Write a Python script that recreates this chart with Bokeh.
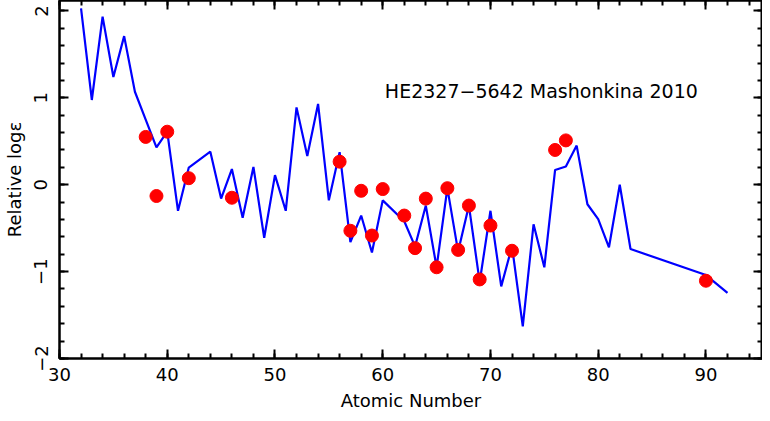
from bokeh.plotting import figure
from bokeh.models import LinearAxis, Range1d, Label, SingleIntervalTicker, CustomJSTickFormatter
from bokeh.embed import file_html
from bokeh.resources import INLINE

# Blue line: model abundance pattern
line_z = [32, 33, 34, 35, 36, 37, 38, 39, 40, 41, 42, 44, 45, 46, 47, 48, 49, 50,
          51, 52, 53, 54, 55, 56, 57, 58, 59, 60, 62, 63, 64, 65, 66, 67, 68, 69,
          70, 71, 72, 73, 74, 75, 76, 77, 78, 79, 80, 81, 82, 83, 90, 92]
line_val = [2.03, 0.975, 1.935, 1.24, 1.71, 1.07, 0.75, 0.43, 0.61, -0.30, 0.197, 0.38,
            -0.16, 0.18, -0.38, 0.205, -0.61, 0.11, -0.30, 0.89, 0.33, 0.93, -0.18,
            0.375, -0.66, -0.355, -0.78, -0.18, -0.42, -0.71, -0.24, -0.95, -0.04,
            -0.77, -0.24, -1.12, -0.30, -1.17, -0.71, -1.63, -0.455, -0.95, 0.17,
            0.21, 0.45, -0.225, -0.395, -0.72, 0.0, -0.74, -1.04, -1.245]

# Red points: observed abundances
obs_z = [38, 39, 40, 42, 46, 56, 57, 58, 59, 60, 62, 63, 64, 65, 66, 67, 68, 69,
         70, 72, 76, 77, 90]
obs_val = [0.55, -0.13, 0.61, 0.075, -0.15, 0.265, -0.53, -0.07, -0.585, -0.05,
           -0.355, -0.73, -0.16, -0.95, -0.04, -0.75, -0.24, -1.09, -0.47, -0.76,
           0.40, 0.51, -1.105]

x_label = "Atomic Number"
y_label = "Relative log\u03b5"
annot = "HE2327\u22125642 Mashonkina 2010"

FONT = "DejaVu Sans"
FS = "18px"

p = figure(width=762, height=413, output_backend="svg", toolbar_location=None,
           x_range=Range1d(30, 95.25), y_range=Range1d(-2, 2.12),
           min_border_left=0, min_border_right=0, min_border_top=0, min_border_bottom=0)
p.xgrid.visible = False
p.ygrid.visible = False
p.outline_line_color = "black"
p.outline_line_width = 2
p.background_fill_color = "white"
p.border_fill_color = "white"

xt = SingleIntervalTicker(interval=10, num_minor_ticks=5)
yt = SingleIntervalTicker(interval=1, num_minor_ticks=5)

def style(ax, show_labels):
    ax.axis_line_color = "black"
    ax.axis_line_width = 2
    ax.major_tick_in = 9
    ax.major_tick_out = 0
    ax.minor_tick_in = 5
    ax.minor_tick_out = 0
    ax.major_tick_line_width = 2
    ax.minor_tick_line_width = 2
    ax.major_tick_line_color = "black"
    ax.minor_tick_line_color = "black"
    if show_labels:
        ax.major_label_text_font = FONT
        ax.major_label_text_font_size = FS
        ax.major_label_text_color = "black"
        ax.axis_label_text_font = FONT
        ax.axis_label_text_font_size = FS
        ax.axis_label_text_font_style = "normal"
        ax.axis_label_text_color = "black"
    else:
        ax.formatter = CustomJSTickFormatter(code="return ''")
        ax.major_label_text_font_size = "0px"
        ax.major_label_standoff = 0
        ax.axis_label_standoff = 0

p.xaxis.ticker = xt
p.yaxis.ticker = yt
style(p.xaxis[0], True)
style(p.yaxis[0], True)
p.xaxis.axis_label = x_label
p.yaxis.axis_label = y_label
p.xaxis.major_label_standoff = 9
p.xaxis.axis_label_standoff = 6
p.yaxis.major_label_standoff = 12
p.yaxis.axis_label_standoff = 7
p.yaxis.major_label_orientation = "vertical"

top = LinearAxis(ticker=xt)
style(top, False)
p.add_layout(top, "above")
right = LinearAxis(ticker=yt)
style(right, False)
p.add_layout(right, "right")

p.line(line_z, line_val, line_color="#0000ff", line_width=2.2)
p.scatter(obs_z, obs_val, size=13, fill_color="#ff0000", line_color="#ff0000", marker="circle")

p.add_layout(Label(x=60.2, y=1.08, text=annot, text_font=FONT, text_font_size="19px",
                   text_color="black", text_baseline="alphabetic", text_align="left"))

open("out.html", "w").write(file_html(p, INLINE))
